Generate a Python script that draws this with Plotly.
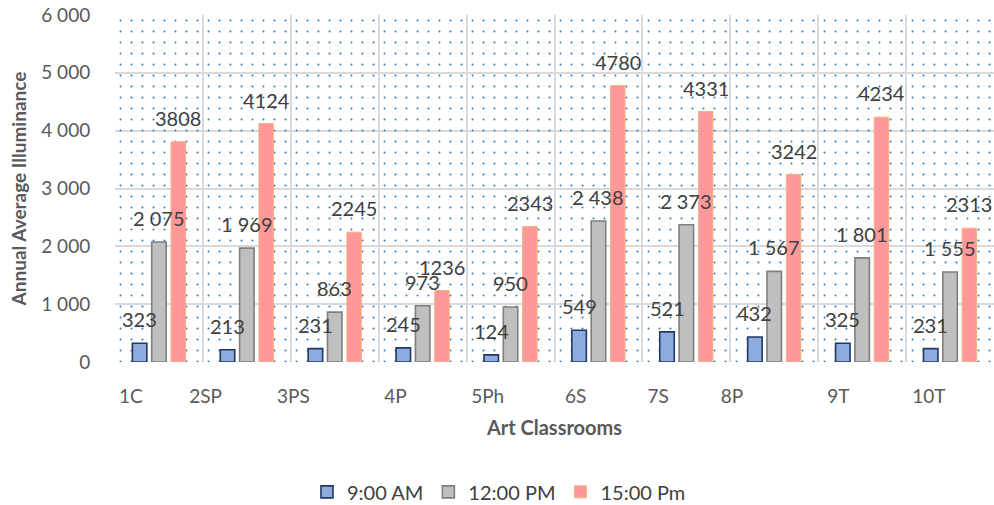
import plotly.graph_objects as go

# Art classrooms and annual average illuminance at three times of day
classrooms = ["1C", "2SP", "3PS", "4P", "5Ph", "6S", "7S", "8P", "9T", "10T"]
am_9 = [323, 213, 231, 245, 124, 549, 521, 432, 325, 231]
pm_12 = [2075, 1969, 863, 973, 950, 2438, 2373, 1567, 1801, 1555]
pm_15 = [3808, 4124, 2245, 1236, 2343, 4780, 4331, 3242, 4234, 2313]

series_names = ["9:00 AM", "12:00 PM", "15:00 Pm"]
y_ticks = [0, 1000, 2000, 3000, 4000, 5000, 6000]

# category labels sit near the left edge of each category band
label_shift = [0.18, 0.03, 0.03, 0.19, 0.24, 0.24, 0.18, 0.02, 0.23, 0.26]

FONT = "Lato"
TXT = "#404040"
SLOT = 0.22
WIDTH = 0.165
Y_MAX = 6000

idx = list(range(len(classrooms)))

def spaced(v):
    return f"{v:,}".replace(",", " ")

styles = [
    dict(fill="#8FAADC", line="#203864", lw=1.6, fmt=str),
    dict(fill="#BFBFBF", line="#7F7F7F", lw=1.6, fmt=spaced),
    dict(fill="#FF9999", line="#F4B183", lw=1.0, fmt=str),
]

fig = go.Figure()

# dotted texture filling the whole plot area, kept in the bar layer below the data bars
fig.add_trace(go.Bar(
    x=[(len(classrooms) - 1) / 2], y=[Y_MAX], width=len(classrooms),
    marker=dict(color="rgba(0,0,0,0)", line=dict(width=0),
                pattern=dict(shape=".", fgcolor="#2E75B6", fgopacity=1,
                             bgcolor="rgba(0,0,0,0)", size=11, solidity=0.025)),
    hoverinfo="skip", showlegend=False,
))

annotations = []
for k, (name, vals, st) in enumerate(zip(series_names, [am_9, pm_12, pm_15], styles)):
    off = (k - 1) * SLOT
    fig.add_trace(go.Bar(
        x=idx, y=vals, name=name,
        offset=off - WIDTH / 2, width=WIDTH,
        marker=dict(color=st["fill"], line=dict(color=st["line"], width=st["lw"])),
    ))
    for i, v in zip(idx, vals):
        annotations.append(dict(
            x=i + off, y=v, xref="x", yref="y", text=st["fmt"](v),
            showarrow=False, yshift=24, yanchor="middle",
            font=dict(family=FONT, size=20, color=TXT),
        ))

fig.update_layout(
    width=994, height=505,
    margin=dict(l=115, r=0, t=15, b=143),
    paper_bgcolor="white", plot_bgcolor="white",
    barmode="overlay",
    separators=". ",
    font=dict(family=FONT, color="#595959"),
    annotations=annotations,
    legend=dict(
        orientation="h", xref="container", yref="container",
        x=0.502, y=0.026, xanchor="center", yanchor="middle",
        font=dict(family=FONT, size=20, color="#404040"),
        itemwidth=30, traceorder="normal",
    ),
    xaxis=dict(
        range=[-0.5, 9.5],
        tickvals=[i - 0.5 + s for i, s in zip(idx, label_shift)],
        ticktext=classrooms,
        showgrid=False, zeroline=False, showline=False,
        ticks="outside", ticklen=17, tickcolor="rgba(0,0,0,0)",
        tickfont=dict(family=FONT, size=19, color="#595959"),
        minor=dict(tickvals=[i - 0.5 for i in range(len(classrooms) + 1)],
                   showgrid=True, gridcolor="#D9D9D9", gridwidth=1.5, ticks=""),
        title=dict(text="<b>Art Classrooms</b>", standoff=15,
                   font=dict(family=FONT, size=20, color="#595959")),
    ),
    yaxis=dict(
        range=[0, Y_MAX], tickvals=y_ticks, tickformat=",d",
        showgrid=True, gridcolor="#D9D9D9", gridwidth=1.5,
        zeroline=False, showline=False,
        ticks="outside", ticklen=20, tickcolor="rgba(0,0,0,0)",
        tickfont=dict(family=FONT, size=19, color="#595959"),
        title=dict(text="<b>Annual Average Illuminance</b>", standoff=9,
                   font=dict(family=FONT, size=19, color="#595959")),
    ),
)

fig.write_html("out.html")
